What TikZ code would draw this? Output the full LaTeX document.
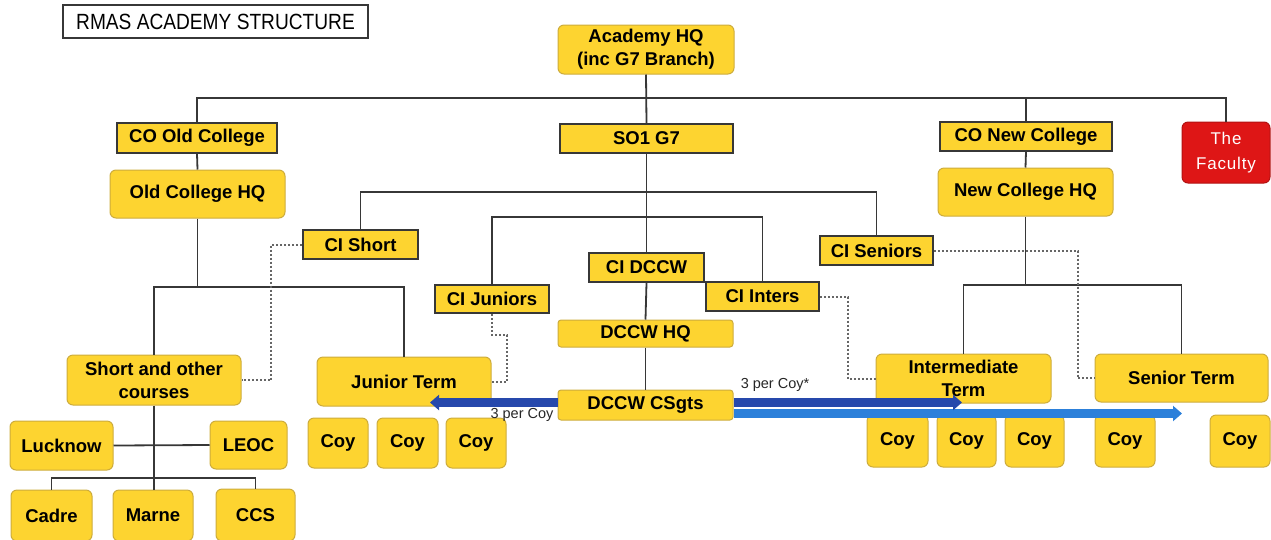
\documentclass[tikz,border=0pt]{standalone}
\usepackage{fontspec}
\setmainfont{Liberation Sans}
\newfontfamily\titlefont{Liberation Sans}[FakeStretch=0.87]
\usetikzlibrary{arrows.meta}
\definecolor{ylw}{RGB}{253,212,48}
\definecolor{yedge}{RGB}{205,172,60}
\definecolor{edge}{RGB}{55,55,55}
\definecolor{lin}{RGB}{55,55,55}
\definecolor{facred}{RGB}{222,22,22}
\definecolor{dkblue}{RGB}{38,72,172}
\definecolor{ltblue}{RGB}{44,128,218}
\tikzset{
  ybox/.style={draw=yedge, fill=ylw, rounded corners=6pt, line width=1pt,
    font=\fontsize{18.5}{23}\selectfont\bfseries, align=center, inner sep=0pt, text=black},
  sbox/.style={ybox, rounded corners=0pt, draw=edge, line width=1.6pt},
  wh/.style 2 args={minimum width=#1, minimum height=#2},
  conn/.style={draw=lin, line width=1.8pt},
  dots/.style={draw=black!60, line width=2pt, dash pattern=on 2pt off 2pt},
  lbl/.style={font=\fontsize{14.5}{16}\selectfont, inner sep=0pt, text=black!85},
  barrow/.style={line width=9pt, -{Triangle[length=9pt,width=15pt]}}
}
\begin{document}
\begin{tikzpicture}[x=1pt,y=-1pt]
\useasboundingbox (0,0) rectangle (1271,539);
% title
\node[draw=lin, line width=1.8pt, fill=white, minimum width=305, minimum height=33, inner sep=0pt,
  font=\titlefont\fontsize{22}{26}\selectfont] (title) at (215.5,21.5) {RMAS ACADEMY STRUCTURE};
% bus coordinates
\coordinate (bus1) at (646,98);
\coordinate (bus2) at (646,192);
\coordinate (bus3) at (646,217);
\coordinate (bus4) at (197.5,287);
\coordinate (bus5) at (1025.5,285);
\coordinate (bus6) at (154,478);
% top level
\node[ybox, wh={176}{49}] (ahq) at (646,49.5) {Academy HQ\\(inc G7 Branch)};
\node[sbox, wh={160}{30}] (coold) at (197,138) {CO Old College};
\node[sbox, wh={173}{29}] (so1) at (646.5,138.5) {SO1 G7};
\node[sbox, wh={172}{29}] (conew) at (1026,136.5) {CO New College};
\node[ybox, draw=facred!80!black, fill=facred, text=white, wh={88}{61},
  font=\fontsize{17}{25}\selectfont\addfontfeature{LetterSpace=5}] (faculty) at (1226,152.5) {The\\Faculty};
\node[ybox, wh={175}{48}] (oldhq) at (197.5,194) {Old College HQ};
\node[ybox, wh={175}{48}] (newhq) at (1025.5,192) {New College HQ};
% CI level
\node[sbox, wh={115}{29}] (cishort) at (360.5,244.5) {CI Short};
\node[sbox, wh={113}{29}] (cisen) at (876.5,250.5) {CI Seniors};
\node[sbox, wh={115}{29}] (cidccw) at (646.5,267.5) {CI DCCW};
\node[sbox, wh={114}{28}] (cijun) at (492,299) {CI Juniors};
\node[sbox, wh={113}{29}] (ciint) at (762.5,296.5) {CI Inters};
\node[ybox, wh={175}{27}, rounded corners=3pt] (dccwhq) at (645.5,333.5) {DCCW HQ};
\node[ybox, wh={175}{30}, rounded corners=3pt] (csgts) at (645.5,405) {DCCW CSgts};
% terms
\node[ybox, wh={174}{50}] (short) at (154,380) {Short and other\\courses};
\node[ybox, wh={174}{49}] (junior) at (404,381.5) {Junior Term};
\node[ybox, wh={175}{49}] (inter) at (963.5,378.5) {Intermediate\\Term};
\node[ybox, wh={173}{48}] (senior) at (1181.5,378) {Senior Term};
% old college units
\node[ybox, wh={103}{49}] (lucknow) at (61.5,445.5) {Lucknow};
\node[ybox, wh={77}{48}] (leoc) at (248.5,445) {LEOC};
\node[ybox, wh={81}{51}] (cadre) at (51.5,515.5) {Cadre};
\node[ybox, wh={80}{51}] (marne) at (153,515.5) {Marne};
\node[ybox, wh={79}{52}] (ccs) at (255.5,515) {CCS};
% coys
\node[ybox, wh={60}{50}] (coy1) at (338,443) {Coy};
\node[ybox, wh={61}{50}] (coy2) at (407.5,443) {Coy};
\node[ybox, wh={60}{50}] (coy3) at (476,443) {Coy};
\node[ybox, wh={61}{52}] (coy4) at (897.5,441) {Coy};
\node[ybox, wh={59}{52}] (coy5) at (966.5,441) {Coy};
\node[ybox, wh={59}{52}] (coy6) at (1034.5,441) {Coy};
\node[ybox, wh={60}{52}] (coy7) at (1125,441) {Coy};
\node[ybox, wh={60}{52}] (coy8) at (1240,441) {Coy};
% connectors
\draw[conn] (coold.north) |- (bus1) -| (faculty.north);
\draw[conn] (conew.north) -- (conew.north |- bus1);
\draw[conn] (ahq.south) -- (so1.north);
\draw[conn] (coold.south) -- (oldhq.north);
\draw[conn] (conew.south) -- (newhq.north);
\draw[conn] (so1.south) -- (cidccw.north);
\draw[conn] (cishort.north) |- (bus2) -| (cisen.north);
\draw[conn] (cijun.north) |- (bus3) -| (ciint.north);
\draw[conn] (cidccw.south) -- (dccwhq.north);
\draw[conn] (dccwhq.south) -- (csgts.north);
\draw[conn] (oldhq.south) -- (bus4);
\draw[conn] (short.north) |- (bus4) -| (junior.north);
\draw[conn] (newhq.south) -- (bus5);
\draw[conn] (inter.north) |- (bus5) -| (senior.north);
\draw[conn] (short.south) -- (short.south |- marne.north);
\draw[conn] (lucknow.east) -- (leoc.west);
\draw[conn] (cadre.north) |- (bus6) -| (ccs.north);
% dotted links
\draw[dots] (cishort.west) -- ++(-31,0) |- (short.east);
\draw[dots] (cijun.south) -- ++(0,21) -- ++(15,0) |- (junior.east);
\draw[dots] (ciint.east) -- ++(28,0) |- (inter.west);
\draw[dots] (cisen.east) -- ++(144,0) |- (senior.west);
% arrows
\coordinate (lend) at (430,402.5);
\coordinate (rend1) at (962,402.5);
\coordinate (rend2) at (1182,413.5);
\draw[barrow, dkblue] (csgts.west |- lend) -- (lend);
\draw[barrow, ltblue] (csgts.east |- rend2) -- (rend2);
\draw[barrow, dkblue] (csgts.east |- rend1) -- (rend1);
% labels
\node[lbl, anchor=base] (lbl1) at (522,418) {3 per Coy};
\node[lbl, anchor=base] (lbl2) at (775,388) {3 per Coy*};
\end{tikzpicture}
\end{document}
